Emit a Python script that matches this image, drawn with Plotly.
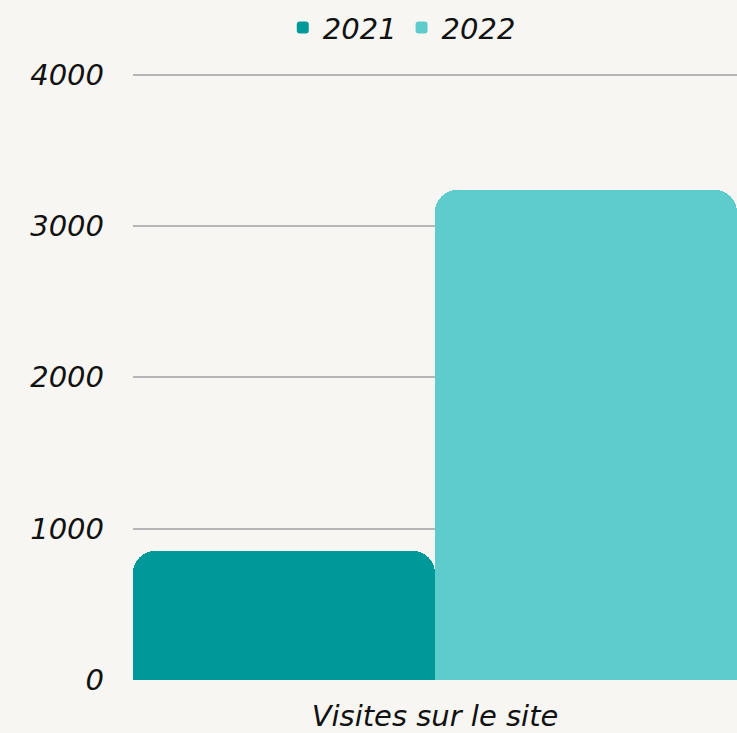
import plotly.graph_objects as go

categories = ['Visites sur le site']
series_names = ['2021', '2022']
values_2021 = [855]
values_2022 = [3235]
y_ticks = [0, 1000, 2000, 3000, 4000]

FONT = 'DejaVu Sans'
FSIZE = 29

fig = go.Figure()

fig.add_trace(go.Bar(
    x=categories, y=values_2021, name=series_names[0],
    marker=dict(color='#009999', cornerradius=22, line=dict(width=0))
))
fig.add_trace(go.Bar(
    x=categories, y=values_2022, name=series_names[1],
    marker=dict(color='#5ecccc', cornerradius=22, line=dict(width=0))
))

fig.update_layout(
    width=737, height=733,
    margin=dict(l=133, r=0, t=70, b=51),
    paper_bgcolor='#f7f6f2',
    plot_bgcolor='#f7f6f2',
    barmode='group',
    bargap=0,
    bargroupgap=0,
    font=dict(family=FONT, size=FSIZE, color='#111111', style='italic'),
    showlegend=True,
    legend=dict(
        orientation='h', x=0.445, xanchor='center', y=0.997, yanchor='top',
        yref='container', font=dict(family=FONT, size=FSIZE, style='italic'),
        bgcolor='rgba(0,0,0,0)'
    ),
    xaxis=dict(
        showgrid=False, showline=False, zeroline=False, ticks='',
        tickfont=dict(family=FONT, size=FSIZE, style='italic'),
        ticklabelstandoff=16
    ),
    yaxis=dict(
        range=[0, 4030], tickvals=y_ticks, ticktext=[str(v) for v in y_ticks],
        showgrid=True, gridcolor='#b5b5b5', gridwidth=2,
        zeroline=False, showline=False, ticks='',
        tickfont=dict(family=FONT, size=FSIZE, style='italic'),
        ticklabelstandoff=28
    ),
)

fig.write_html("out.html", config={'displayModeBar': False},
               post_script="document.body.style.margin='0';")
